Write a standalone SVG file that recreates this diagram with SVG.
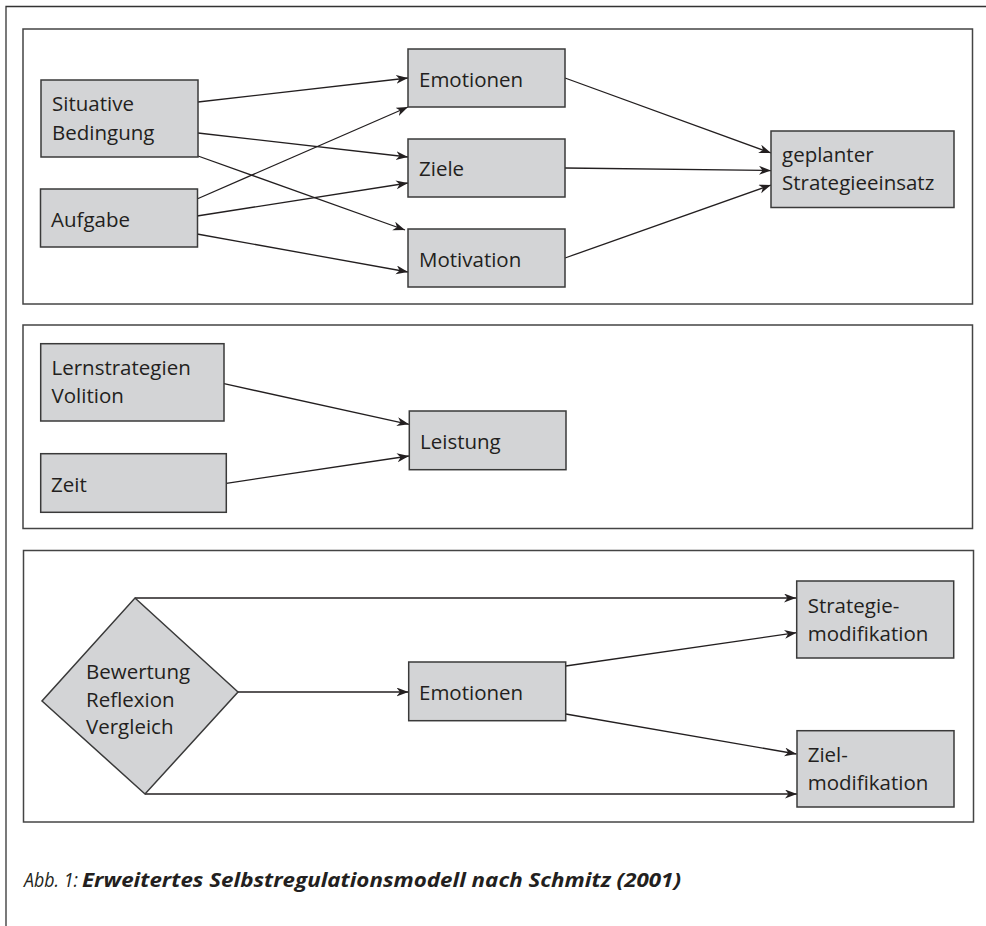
<svg xmlns="http://www.w3.org/2000/svg" width="986" height="926" viewBox="0 0 986 926">
<defs>
<style>
.frame{fill:none;stroke:#333;stroke-width:1.3}
.panel{fill:#fff;stroke:#444;stroke-width:1.5}
.box{fill:#d3d4d6;stroke:#3a3a3a;stroke-width:1.5}
.t{font-family:"Open Sans","Liberation Sans",sans-serif;font-size:20.5px;fill:#231f20}
.c{fill:none;stroke:#231f20;stroke-width:1.3}
.cap{font-family:"Open Sans","Liberation Sans",sans-serif;font-size:20px;fill:#231f20;font-style:italic}
</style>
<marker id="arr" markerUnits="userSpaceOnUse" markerWidth="14" markerHeight="10" refX="12" refY="4.5" orient="auto">
<path d="M0,0 L12,4.5 L0,9 L3.5,4.5 z" fill="#231f20"/>
</marker>
</defs>
<rect width="986" height="926" fill="#fff"/>
<path class="frame" d="M6,926 L6,6.5 L986,6.5"/>
<rect class="panel" x="23" y="29" width="949.5" height="275"/>
<rect class="panel" x="23" y="325" width="949.5" height="203.5"/>
<rect class="panel" x="23.5" y="550.5" width="950" height="271.5"/>

<g id="connectors">
<line class="c" x1="198" y1="102" x2="408" y2="78" marker-end="url(#arr)"/>
<line class="c" x1="198" y1="133" x2="408" y2="157" marker-end="url(#arr)"/>
<line class="c" x1="198" y1="156" x2="405" y2="230" marker-end="url(#arr)"/>
<line class="c" x1="197" y1="199" x2="408" y2="107" marker-end="url(#arr)"/>
<line class="c" x1="197" y1="216" x2="408" y2="183" marker-end="url(#arr)"/>
<line class="c" x1="197" y1="234" x2="408" y2="272" marker-end="url(#arr)"/>
<line class="c" x1="565" y1="78" x2="771" y2="153" marker-end="url(#arr)"/>
<line class="c" x1="565" y1="168" x2="771" y2="170.5" marker-end="url(#arr)"/>
<line class="c" x1="565" y1="258" x2="771" y2="185" marker-end="url(#arr)"/>
<line class="c" x1="224" y1="383.7" x2="409" y2="424.3" marker-end="url(#arr)"/>
<line class="c" x1="226.3" y1="483.3" x2="409" y2="456" marker-end="url(#arr)"/>
<line class="c" x1="135" y1="598" x2="796" y2="598" marker-end="url(#arr)"/>
<line class="c" x1="145" y1="794" x2="797" y2="794" marker-end="url(#arr)"/>
<line class="c" x1="238" y1="692" x2="408.5" y2="692" marker-end="url(#arr)"/>
<line class="c" x1="565.7" y1="666" x2="796.5" y2="632.7" marker-end="url(#arr)"/>
<line class="c" x1="565.7" y1="714" x2="796.5" y2="754" marker-end="url(#arr)"/>
</g>

<g id="situative">
<rect class="box" x="41" y="80" width="157" height="77"/>
<text class="t" x="52" y="111">Situative</text>
<text class="t" x="52" y="139.5">Bedingung</text>
</g>
<g id="aufgabe">
<rect class="box" x="40.5" y="189" width="157" height="58"/>
<text class="t" x="51" y="227">Aufgabe</text>
</g>
<g id="emotionen1">
<rect class="box" x="408" y="49" width="157" height="58"/>
<text class="t" x="419" y="87">Emotionen</text>
</g>
<g id="ziele">
<rect class="box" x="408" y="139" width="157" height="58"/>
<text class="t" x="419" y="176">Ziele</text>
</g>
<g id="motivation">
<rect class="box" x="408" y="229" width="157" height="58"/>
<text class="t" x="419" y="266.5">Motivation</text>
</g>
<g id="strategieeinsatz">
<rect class="box" x="771" y="131" width="183" height="76.5"/>
<text class="t" x="782" y="162">geplanter</text>
<text class="t" x="782" y="190">Strategieeinsatz</text>
</g>

<g id="lernstrategien">
<rect class="box" x="40.7" y="343.7" width="183.3" height="77.3"/>
<text class="t" x="51.5" y="375">Lernstrategien</text>
<text class="t" x="51.5" y="403">Volition</text>
</g>
<g id="zeit">
<rect class="box" x="40.7" y="453.7" width="185.6" height="58.6"/>
<text class="t" x="51" y="491.7">Zeit</text>
</g>
<g id="leistung">
<rect class="box" x="409.3" y="411" width="156.7" height="58.7"/>
<text class="t" x="420" y="449">Leistung</text>
</g>

<g id="bewertung">
<polygon class="box" points="135,598 238,692 145,794 42,701"/>
<text class="t" x="86" y="679">Bewertung</text>
<text class="t" x="86" y="707">Reflexion</text>
<text class="t" x="86" y="734">Vergleich</text>
</g>
<g id="emotionen2">
<rect class="box" x="408.7" y="662" width="157" height="58.7"/>
<text class="t" x="419" y="700">Emotionen</text>
</g>
<g id="strategiemod">
<rect class="box" x="796.7" y="581" width="157" height="77"/>
<text class="t" x="807.7" y="612.7">Strategie-</text>
<text class="t" x="807.7" y="640.7">modifikation</text>
</g>
<g id="zielmod">
<rect class="box" x="797" y="730.7" width="157" height="76.3"/>
<text class="t" x="807.7" y="761.7">Ziel-</text>
<text class="t" x="807.7" y="790">modifikation</text>
</g>

<text class="cap" x="24" y="887" textLength="54" lengthAdjust="spacingAndGlyphs">Abb. 1:</text>
<text class="cap" x="82" y="887" font-weight="bold" font-size="21" textLength="599" lengthAdjust="spacingAndGlyphs">Erweitertes Selbstregulationsmodell nach Schmitz (2001)</text>
</svg>
